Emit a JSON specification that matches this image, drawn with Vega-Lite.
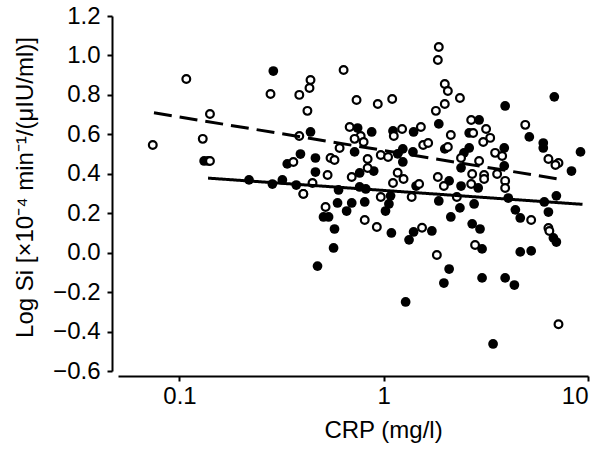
{
  "$schema": "https://vega.github.io/schema/vega-lite/v6.json",
  "width": 470,
  "height": 355,
  "autosize": {"type": "none"},
  "padding": {"left": 118, "top": 16, "right": 19, "bottom": 80},
  "background": "white",
  "config": {
    "view": {"stroke": null},
    "font": "Liberation Sans",
    "axis": {
      "grid": false,
      "domainColor": "black",
      "domainWidth": 2,
      "tickColor": "black",
      "tickWidth": 2,
      "tickSize": 5,
      "labelColor": "black",
      "labelFontSize": 24,
      "titleColor": "black",
      "titleFontSize": 24,
      "titleFontWeight": "normal",
      "labelFont": "Liberation Sans",
      "titleFont": "Liberation Sans"
    }
  },
  "datasets": {
    "pts": [
      {"crp": 0.074, "si": 0.546, "g": "o"},
      {"crp": 0.108, "si": 0.881, "g": "o"},
      {"crp": 0.141, "si": 0.703, "g": "o"},
      {"crp": 0.130, "si": 0.577, "g": "o"},
      {"crp": 0.141, "si": 0.465, "g": "o"},
      {"crp": 0.279, "si": 0.805, "g": "o"},
      {"crp": 0.386, "si": 0.800, "g": "o"},
      {"crp": 0.438, "si": 0.876, "g": "o"},
      {"crp": 0.433, "si": 0.835, "g": "o"},
      {"crp": 0.636, "si": 0.926, "g": "o"},
      {"crp": 0.736, "si": 0.774, "g": "o"},
      {"crp": 0.423, "si": 0.719, "g": "o"},
      {"crp": 0.386, "si": 0.592, "g": "o"},
      {"crp": 0.361, "si": 0.460, "g": "o"},
      {"crp": 0.549, "si": 0.480, "g": "o"},
      {"crp": 0.574, "si": 0.470, "g": "o"},
      {"crp": 0.531, "si": 0.394, "g": "o"},
      {"crp": 0.681, "si": 0.637, "g": "o"},
      {"crp": 0.771, "si": 0.592, "g": "o"},
      {"crp": 0.720, "si": 0.577, "g": "o"},
      {"crp": 0.608, "si": 0.531, "g": "o"},
      {"crp": 0.834, "si": 0.475, "g": "o"},
      {"crp": 0.697, "si": 0.384, "g": "o"},
      {"crp": 0.448, "si": 0.353, "g": "o"},
      {"crp": 0.404, "si": 0.298, "g": "o"},
      {"crp": 0.519, "si": 0.232, "g": "o"},
      {"crp": 0.807, "si": 0.166, "g": "o"},
      {"crp": 1.86, "si": 1.043, "g": "o"},
      {"crp": 1.84, "si": 0.977, "g": "o"},
      {"crp": 1.99, "si": 0.855, "g": "o"},
      {"crp": 2.06, "si": 0.820, "g": "o"},
      {"crp": 2.36, "si": 0.784, "g": "o"},
      {"crp": 1.99, "si": 0.754, "g": "o"},
      {"crp": 1.80, "si": 0.719, "g": "o"},
      {"crp": 0.935, "si": 0.754, "g": "o"},
      {"crp": 1.10, "si": 0.779, "g": "o"},
      {"crp": 4.93, "si": 0.648, "g": "o"},
      {"crp": 6.40, "si": 0.475, "g": "o"},
      {"crp": 7.17, "si": 0.455, "g": "o"},
      {"crp": 6.93, "si": 0.445, "g": "o"},
      {"crp": 2.68, "si": 0.673, "g": "o"},
      {"crp": 3.17, "si": 0.627, "g": "o"},
      {"crp": 2.74, "si": 0.607, "g": "o"},
      {"crp": 3.32, "si": 0.582, "g": "o"},
      {"crp": 3.07, "si": 0.561, "g": "o"},
      {"crp": 2.13, "si": 0.597, "g": "o"},
      {"crp": 1.56, "si": 0.546, "g": "o"},
      {"crp": 1.65, "si": 0.556, "g": "o"},
      {"crp": 1.52, "si": 0.637, "g": "o"},
      {"crp": 1.23, "si": 0.627, "g": "o"},
      {"crp": 1.12, "si": 0.592, "g": "o"},
      {"crp": 0.797, "si": 0.561, "g": "o"},
      {"crp": 2.06, "si": 0.536, "g": "o"},
      {"crp": 3.51, "si": 0.506, "g": "o"},
      {"crp": 3.80, "si": 0.490, "g": "o"},
      {"crp": 0.967, "si": 0.495, "g": "o"},
      {"crp": 1.05, "si": 0.485, "g": "o"},
      {"crp": 2.39, "si": 0.480, "g": "o"},
      {"crp": 2.93, "si": 0.465, "g": "o"},
      {"crp": 1.17, "si": 0.405, "g": "o"},
      {"crp": 2.71, "si": 0.399, "g": "o"},
      {"crp": 3.10, "si": 0.394, "g": "o"},
      {"crp": 3.59, "si": 0.399, "g": "o"},
      {"crp": 1.84, "si": 0.384, "g": "o"},
      {"crp": 1.11, "si": 0.353, "g": "o"},
      {"crp": 1.25, "si": 0.374, "g": "o"},
      {"crp": 1.49, "si": 0.348, "g": "o"},
      {"crp": 1.97, "si": 0.338, "g": "o"},
      {"crp": 2.68, "si": 0.348, "g": "o"},
      {"crp": 3.10, "si": 0.374, "g": "o"},
      {"crp": 3.93, "si": 0.364, "g": "o"},
      {"crp": 3.93, "si": 0.328, "g": "o"},
      {"crp": 0.967, "si": 0.282, "g": "o"},
      {"crp": 1.37, "si": 0.282, "g": "o"},
      {"crp": 2.28, "si": 0.282, "g": "o"},
      {"crp": 0.925, "si": 0.130, "g": "o"},
      {"crp": 1.54, "si": 0.126, "g": "o"},
      {"crp": 2.80, "si": 0.039, "g": "o"},
      {"crp": 1.82, "si": -0.012, "g": "o"},
      {"crp": 7.17, "si": -0.363, "g": "o"},
      {"crp": 5.27, "si": 0.166, "g": "o"},
      {"crp": 6.40, "si": 0.125, "g": "o"},
      {"crp": 6.47, "si": 0.110, "g": "o"},
      {"crp": 0.834, "si": 0.429, "g": "o"},
      {"crp": 0.132, "si": 0.465, "g": "f"},
      {"crp": 0.138, "si": 0.465, "g": "f"},
      {"crp": 0.288, "si": 0.921, "g": "f"},
      {"crp": 0.438, "si": 0.612, "g": "f"},
      {"crp": 0.391, "si": 0.500, "g": "f"},
      {"crp": 0.337, "si": 0.450, "g": "f"},
      {"crp": 0.463, "si": 0.480, "g": "f"},
      {"crp": 0.463, "si": 0.409, "g": "f"},
      {"crp": 0.745, "si": 0.632, "g": "f"},
      {"crp": 0.720, "si": 0.511, "g": "f"},
      {"crp": 0.762, "si": 0.404, "g": "f"},
      {"crp": 0.219, "si": 0.369, "g": "f"},
      {"crp": 0.285, "si": 0.348, "g": "f"},
      {"crp": 0.319, "si": 0.369, "g": "f"},
      {"crp": 0.373, "si": 0.343, "g": "f"},
      {"crp": 0.404, "si": 0.298, "g": "f"},
      {"crp": 0.601, "si": 0.318, "g": "f"},
      {"crp": 0.762, "si": 0.333, "g": "f"},
      {"crp": 0.817, "si": 0.323, "g": "f"},
      {"crp": 0.594, "si": 0.252, "g": "f"},
      {"crp": 0.697, "si": 0.252, "g": "f"},
      {"crp": 0.658, "si": 0.211, "g": "f"},
      {"crp": 0.807, "si": 0.257, "g": "f"},
      {"crp": 0.507, "si": 0.181, "g": "f"},
      {"crp": 0.537, "si": 0.181, "g": "f"},
      {"crp": 0.574, "si": 0.120, "g": "f"},
      {"crp": 0.568, "si": 0.024, "g": "f"},
      {"crp": 0.474, "si": -0.068, "g": "f"},
      {"crp": 1.86, "si": 0.653, "g": "f"},
      {"crp": 3.93, "si": 0.744, "g": "f"},
      {"crp": 6.84, "si": 0.790, "g": "f"},
      {"crp": 5.16, "si": 0.587, "g": "f"},
      {"crp": 6.04, "si": 0.556, "g": "f"},
      {"crp": 6.04, "si": 0.531, "g": "f"},
      {"crp": 9.19, "si": 0.511, "g": "f"},
      {"crp": 8.30, "si": 0.414, "g": "f"},
      {"crp": 2.93, "si": 0.673, "g": "f"},
      {"crp": 2.62, "si": 0.607, "g": "f"},
      {"crp": 1.40, "si": 0.612, "g": "f"},
      {"crp": 1.11, "si": 0.617, "g": "f"},
      {"crp": 0.873, "si": 0.612, "g": "f"},
      {"crp": 1.99, "si": 0.526, "g": "f"},
      {"crp": 2.62, "si": 0.531, "g": "f"},
      {"crp": 2.47, "si": 0.506, "g": "f"},
      {"crp": 3.89, "si": 0.531, "g": "f"},
      {"crp": 1.24, "si": 0.526, "g": "f"},
      {"crp": 1.39, "si": 0.511, "g": "f"},
      {"crp": 1.17, "si": 0.501, "g": "f"},
      {"crp": 1.24, "si": 0.460, "g": "f"},
      {"crp": 2.39, "si": 0.430, "g": "f"},
      {"crp": 3.89, "si": 0.440, "g": "f"},
      {"crp": 0.893, "si": 0.414, "g": "f"},
      {"crp": 1.44, "si": 0.338, "g": "f"},
      {"crp": 2.09, "si": 0.364, "g": "f"},
      {"crp": 2.39, "si": 0.338, "g": "f"},
      {"crp": 2.90, "si": 0.328, "g": "f"},
      {"crp": 1.08, "si": 0.288, "g": "f"},
      {"crp": 1.06, "si": 0.247, "g": "f"},
      {"crp": 1.02, "si": 0.211, "g": "f"},
      {"crp": 1.09, "si": 0.100, "g": "f"},
      {"crp": 1.33, "si": 0.065, "g": "f"},
      {"crp": 1.40, "si": 0.105, "g": "f"},
      {"crp": 1.72, "si": 0.110, "g": "f"},
      {"crp": 1.86, "si": 0.262, "g": "f"},
      {"crp": 2.13, "si": 0.181, "g": "f"},
      {"crp": 2.36, "si": 0.227, "g": "f"},
      {"crp": 2.77, "si": 0.247, "g": "f"},
      {"crp": 2.71, "si": 0.146, "g": "f"},
      {"crp": 2.96, "si": 0.120, "g": "f"},
      {"crp": 3.03, "si": 0.019, "g": "f"},
      {"crp": 2.09, "si": -0.083, "g": "f"},
      {"crp": 1.97, "si": -0.154, "g": "f"},
      {"crp": 1.28, "si": -0.250, "g": "f"},
      {"crp": 3.03, "si": -0.128, "g": "f"},
      {"crp": 3.93, "si": -0.128, "g": "f"},
      {"crp": 4.36, "si": -0.164, "g": "f"},
      {"crp": 3.43, "si": -0.463, "g": "f"},
      {"crp": 4.07, "si": 0.277, "g": "f"},
      {"crp": 4.41, "si": 0.217, "g": "f"},
      {"crp": 4.66, "si": 0.176, "g": "f"},
      {"crp": 4.66, "si": 0.004, "g": "f"},
      {"crp": 5.27, "si": 0.009, "g": "f"},
      {"crp": 6.11, "si": 0.257, "g": "f"},
      {"crp": 6.40, "si": 0.206, "g": "f"},
      {"crp": 7.00, "si": 0.288, "g": "f"},
      {"crp": 6.77, "si": 0.075, "g": "f"},
      {"crp": 7.00, "si": 0.054, "g": "f"}
    ],
    "fit": [
      {"crp": 0.075, "si": 0.709, "g": "o"},
      {"crp": 7.3, "si": 0.372, "g": "o"},
      {"crp": 0.138, "si": 0.378, "g": "f"},
      {"crp": 9.4, "si": 0.245, "g": "f"}
    ]
  },
  "encoding": {
    "x": {
      "field": "crp",
      "type": "quantitative",
      "scale": {"type": "log", "domain": [0.05, 10], "nice": false},
      "axis": {"values": [0.1, 1, 10], "format": "~g", "title": "CRP (mg/l)", "offset": 5, "labelPadding": 3, "titlePadding": 10, "titleX": 265, "titleAlign": "center"}
    },
    "y": {
      "field": "si",
      "type": "quantitative",
      "scale": {"domain": [-0.6, 1.2], "nice": false, "zero": false},
      "axis": {"values": [-0.6, -0.4, -0.2, 0, 0.2, 0.4, 0.6, 0.8, 1.0, 1.2], "format": ".1f", "title": "Log Si [×10⁻⁴ min⁻¹/(μIU/ml)]", "titleFontSize": 24, "offset": 6, "labelPadding": 7, "titlePadding": 15, "titleY": 171, "titleAlign": "center"}
    }
  },
  "layer": [
    {
      "data": {"name": "pts"},
      "transform": [{"filter": "datum.g === 'f'"}],
      "mark": {"type": "point", "shape": "circle", "filled": true, "fill": "black", "stroke": null, "size": 95, "opacity": 1}
    },
    {
      "data": {"name": "pts"},
      "transform": [{"filter": "datum.g === 'o'"}],
      "mark": {"type": "point", "shape": "circle", "filled": false, "fill": "white", "stroke": "black", "strokeWidth": 2.2, "size": 60, "opacity": 1}
    },
    {
      "data": {"name": "fit"},
      "mark": {"type": "line", "color": "black", "strokeWidth": 3},
      "encoding": {
        "detail": {"field": "g"},
        "strokeDash": {"field": "g", "type": "nominal", "scale": {"domain": ["o", "f"], "range": [[18, 8], [1, 0]]}, "legend": null}
      }
    }
  ]
}
